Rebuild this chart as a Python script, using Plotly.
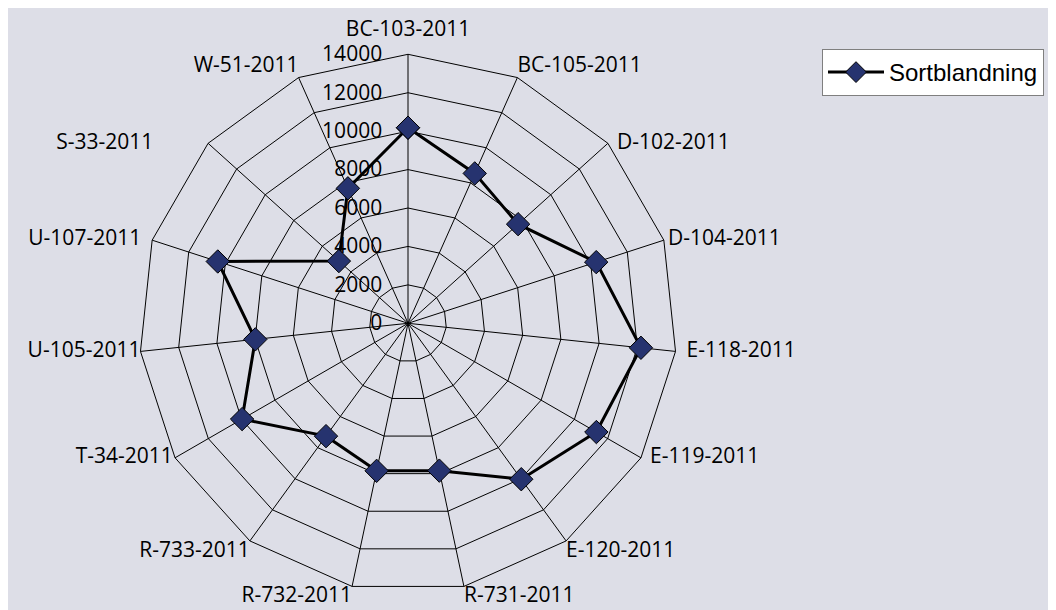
import plotly.graph_objects as go

# ── Data ───────────────────────────────────────────────────────────────────────
categories = [
    "BC-103-2011", "BC-105-2011", "D-102-2011", "D-104-2011", "E-118-2011",
    "E-119-2011", "E-120-2011", "R-731-2011", "R-732-2011", "R-733-2011",
    "T-34-2011", "U-105-2011", "U-107-2011", "S-33-2011", "W-51-2011",
]
values = [
    10180, 8540, 7710, 10300, 12190,
    11320, 10030, 7840, 7850, 7260,
    9970, 7990, 10410, 4840, 7690,
]
series_name = "Sortblandning"
radial_ticks = [0, 2000, 4000, 6000, 8000, 10000, 12000, 14000]
r_max = 14000

# ── Style ──────────────────────────────────────────────────────────────────────
BG = "#DDDEE7"
NAVY = "#26336F"
# page body keeps its 8px margin, which gives the white strip on top/left
W, H = 1048, 602
FONT = "Open Sans, sans-serif"

# category label placement (Excel-like), per spoke: position + gap size
label_pos = [
    "top center", "top right", "middle right", "middle right", "middle right",
    "middle right", "bottom right", "bottom right", "bottom left", "bottom left",
    "middle left", "middle left", "middle left", "middle left", "top left",
]
label_gap = [19, 0, 13, 5, 16, 13, 0, 0, 0, 0, 2, 0, 16, 86, 0]

# close the polygon
theta = categories + categories[:1]
r = values + values[:1]

fig = go.Figure()
fig.add_trace(go.Scatterpolar(
    r=r, theta=theta,
    mode="lines+markers",
    name=series_name,
    line=dict(color="black", width=3),
    marker=dict(symbol="diamond", size=18, color=NAVY,
                line=dict(color="black", width=1)),
))

# spoke labels drawn as text just outside the outer ring
fig.add_trace(go.Scatterpolar(
    r=[r_max] * len(categories), theta=categories,
    mode="markers+text",
    text=categories,
    textposition=label_pos,
    textfont=dict(family=FONT, size=21, color="black"),
    marker=dict(size=label_gap, color="rgba(0,0,0,0)", line=dict(width=0)),
    cliponaxis=False,
    showlegend=False,
    hoverinfo="skip",
))

cx, cy, R = 400, 315.3, 269
fig.update_layout(
    width=W, height=H,
    paper_bgcolor=BG,
    margin=dict(l=0, r=0, t=0, b=0),
    font=dict(family=FONT, size=21, color="black"),
    showlegend=True,
    legend=dict(
        x=814 / W, y=1 - 41 / H, xanchor="left", yanchor="top",
        bgcolor="white", bordercolor="#7F7F7F", borderwidth=1,
        itemwidth=56,
        font=dict(family="Liberation Sans, Arial, sans-serif", size=24, color="black"),
    ),
    polar=dict(
        domain=dict(x=[(cx - R) / W, (cx + R) / W],
                    y=[(H - cy - R) / H, (H - cy + R) / H]),
        bgcolor="rgba(0,0,0,0)",
        gridshape="linear",
        radialaxis=dict(
            range=[0, r_max],
            tickvals=radial_ticks,
            tickformat="d",
            angle=90, tickangle=90,
            side="counterclockwise",
            showline=False,
            gridcolor="black", gridwidth=1,
            ticks="outside", ticklen=18, tickcolor="rgba(0,0,0,0)",
            tickfont=dict(family=FONT, size=21, color="black"),
        ),
        angularaxis=dict(
            direction="clockwise", rotation=90,
            categoryorder="array", categoryarray=categories,
            showline=True, linecolor="black", linewidth=1,
            gridcolor="black", gridwidth=1,
            ticks="", showticklabels=False,
        ),
    ),
)

fig.write_html("out.html")
